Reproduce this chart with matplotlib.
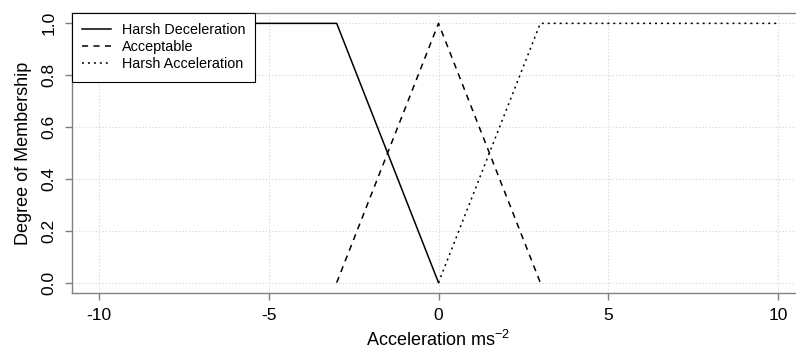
import matplotlib
matplotlib.use("Agg")
import matplotlib.pyplot as plt

plt.rcParams['font.family'] = ['Liberation Sans', 'DejaVu Sans']
plt.rcParams['mathtext.fontset'] = 'custom'
plt.rcParams['mathtext.rm'] = 'Liberation Sans'
plt.rcParams['mathtext.it'] = 'Liberation Sans'

# membership functions (x, y breakpoints)
dec_x = [-10, -3, 0]
dec_y = [1, 1, 0]
ok_x = [-3, 0, 3]
ok_y = [0, 1, 0]
acc_x = [0, 3, 10]
acc_y = [0, 1, 1]
labels = ["Harsh Deceleration", "Acceptable", "Harsh Acceleration"]
xticks = [-10, -5, 0, 5, 10]
yticks = [0.0, 0.2, 0.4, 0.6, 0.8, 1.0]

fig = plt.figure(figsize=(7.96, 3.56), dpi=100)
ax = fig.add_axes([72/796, 1-293/356, (805-72)/796, (293-13)/356])

gc = '#d3d3d3'
for t in xticks:
    ax.axvline(t, color=gc, lw=0.8, ls=(0, (1, 2)), zorder=0)
for t in yticks:
    ax.axhline(t, color=gc, lw=0.8, ls=(0, (1, 2)), zorder=0)

ax.plot(dec_x, dec_y, color='black', lw=1.1, ls='-', label=labels[0])
ax.plot(ok_x, ok_y, color='black', lw=1.1, ls=(0, (4, 3.5)), label=labels[1])
ax.plot(acc_x, acc_y, color='black', lw=1.1, ls=(0, (1.3, 2.6)), label=labels[2])

ax.set_xlim(-10.8, 10.8)
ax.set_ylim(-0.04, 1.04)
ax.set_xticks(xticks)
ax.set_xticklabels([str(t) for t in xticks])
ax.set_yticks(yticks)
ax.set_yticklabels(["%.1f" % t for t in yticks], rotation=90, va='center')

for s in ax.spines.values():
    s.set_color('#808080')
    s.set_linewidth(1.0)
ax.tick_params(axis='both', colors='#808080', labelcolor='black', labelsize=12.5,
               length=5, width=1, direction='out', pad=6)

ax.set_xlabel('Acceleration ms$^{\\mathrm{-2}}$', fontsize=13, labelpad=5)
ax.set_ylabel('Degree of Membership', fontsize=13, labelpad=7)

leg = ax.legend(loc='upper left', bbox_to_anchor=(0, 1), borderaxespad=0,
                fontsize=10.4, fancybox=False, framealpha=1, edgecolor='black',
                handlelength=2.0, handletextpad=0.75, labelspacing=0.22,
                borderpad=0.7)
leg.get_frame().set_linewidth(0.8)

fig.savefig('out.png', dpi=100)
